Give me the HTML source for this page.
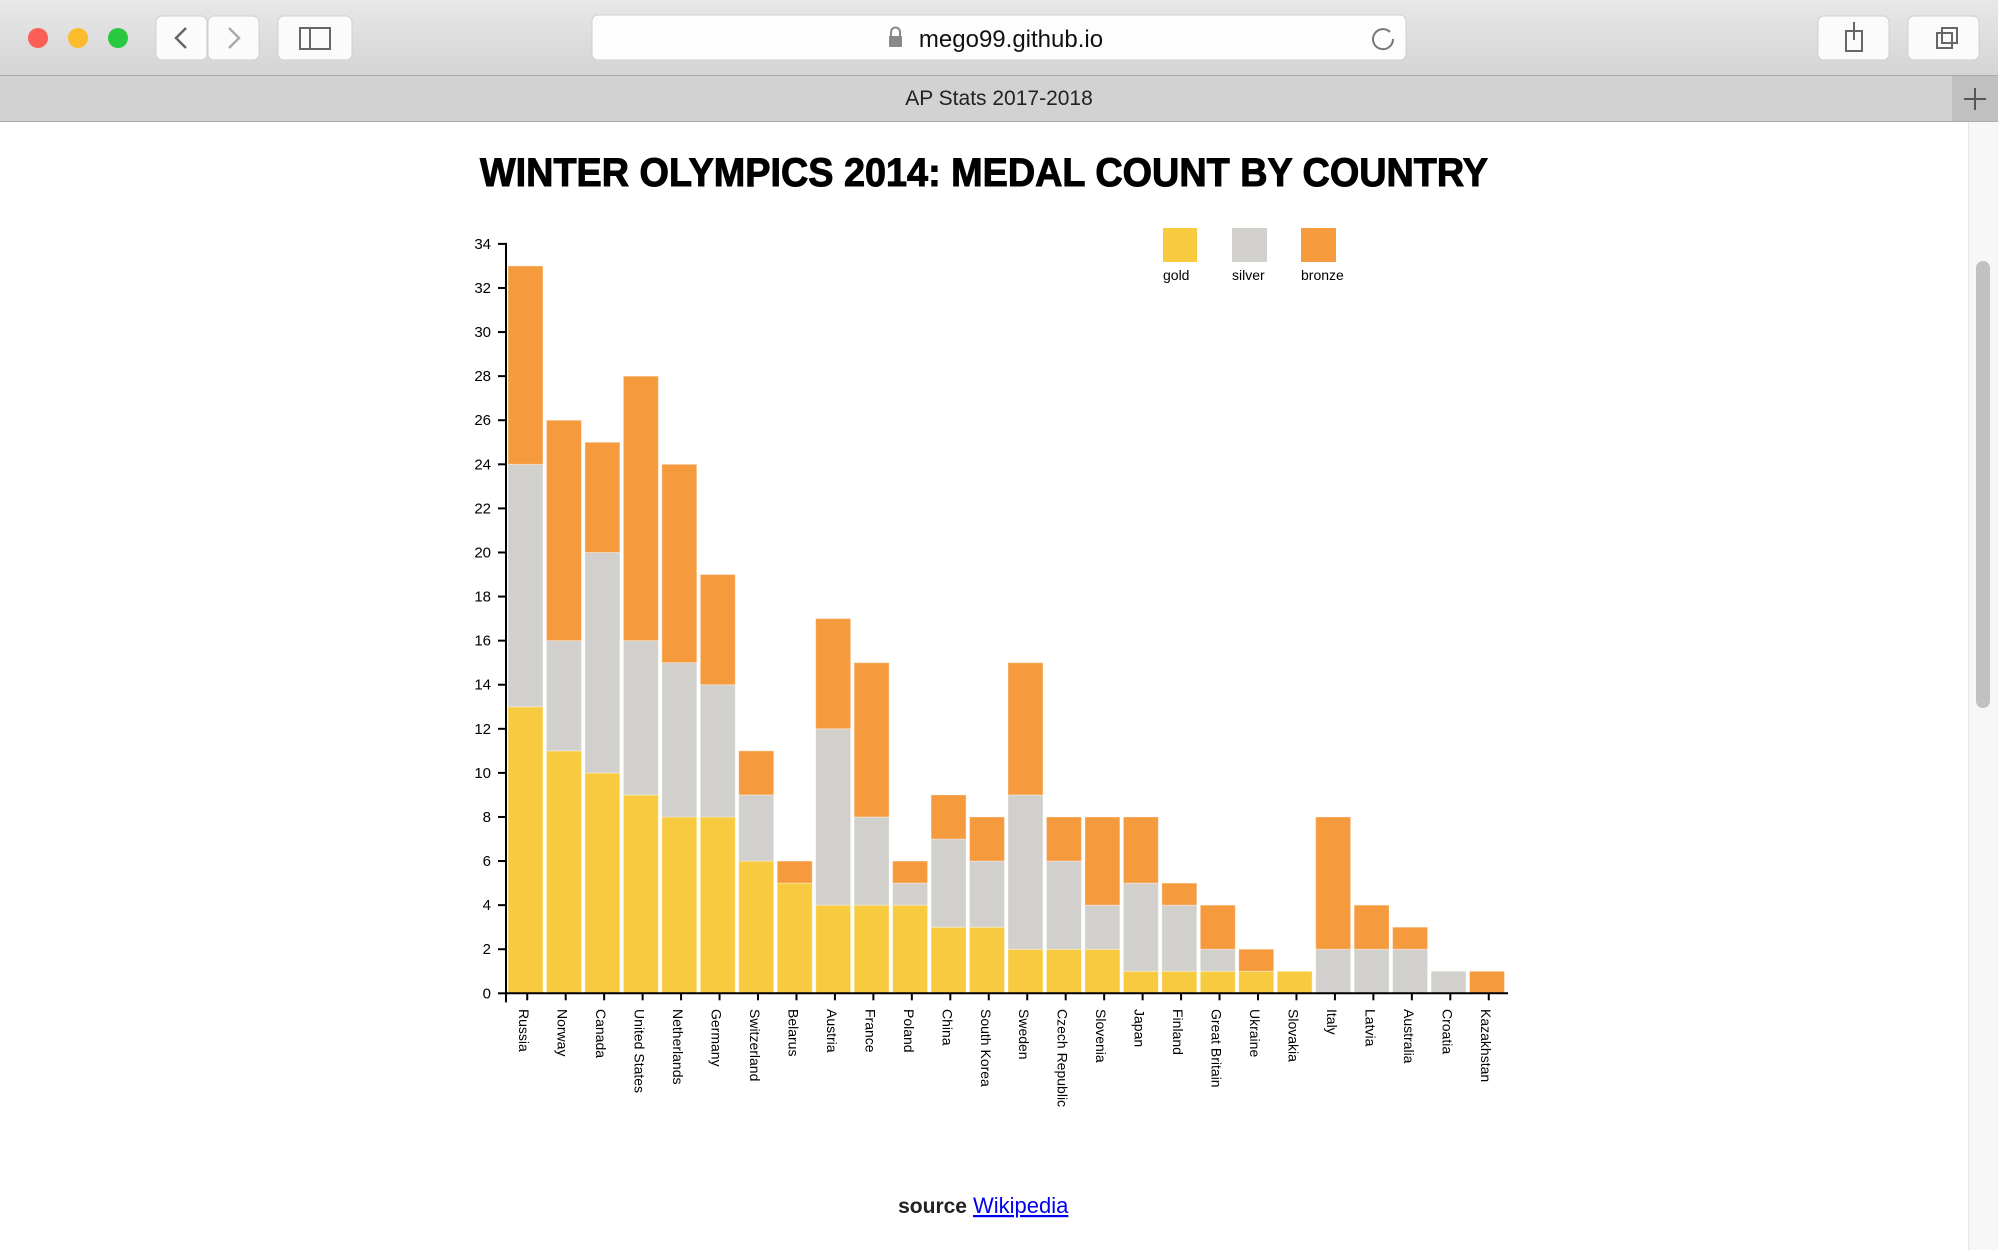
<!DOCTYPE html>
<html><head><meta charset="utf-8"><style>
html,body{margin:0;padding:0;background:#fff;}
svg{display:block;font-family:"Liberation Sans",sans-serif;}
</style></head><body>
<svg id="root" width="1998" height="1250" viewBox="0 0 1998 1250">
 <defs><linearGradient id="tb" x1="0" y1="0" x2="0" y2="1"><stop offset="0" stop-color="#e8e8e8"/><stop offset="1" stop-color="#d4d4d4"/></linearGradient></defs>
 <g>
  <rect x="0" y="0" width="1998" height="75" fill="url(#tb)"/>
  <circle cx="38" cy="38" r="10" fill="#fd5f57"/>
  <circle cx="78" cy="38" r="10" fill="#fdbc2e"/>
  <circle cx="118" cy="38" r="10" fill="#28c840"/>
  <rect x="156" y="16" width="51" height="44" rx="6" fill="#fbfbfb" stroke="#cfcfcf"/>
  <path d="M186 28 L176 38 L186 48" stroke="#666" stroke-width="2.5" fill="none"/>
  <rect x="208" y="16" width="51" height="44" rx="6" fill="#fbfbfb" stroke="#cfcfcf"/>
  <path d="M229 28 L239 38 L229 48" stroke="#aaa" stroke-width="2.5" fill="none"/>
  <rect x="278" y="16" width="74" height="44" rx="6" fill="#fbfbfb" stroke="#cfcfcf"/>
  <rect x="300" y="28" width="30" height="21" fill="none" stroke="#666" stroke-width="2"/><line x1="310" y1="28" x2="310" y2="49" stroke="#666" stroke-width="2"/>
  <rect x="592" y="15" width="814" height="45" rx="6" fill="#fdfdfd" stroke="#cfcfcf"/>
  <rect x="889" y="36" width="13" height="11" rx="1" fill="#888"/><path d="M891 36 v-4 a4.5 4.5 0 0 1 9 0 v4" stroke="#888" stroke-width="2" fill="none"/>
  <text x="1011" y="47" font-size="24" text-anchor="middle" fill="#111">mego99.github.io</text>
  <path d="M1390 32 a10 10 0 1 0 3 7" stroke="#777" stroke-width="2" fill="none"/>
  <rect x="1818" y="16" width="71" height="44" rx="6" fill="#fbfbfb" stroke="#cfcfcf"/>
  <rect x="1846" y="31" width="16" height="20" fill="none" stroke="#666" stroke-width="2"/><line x1="1854" y1="22" x2="1854" y2="40" stroke="#666" stroke-width="2"/>
  <rect x="1908" y="16" width="71" height="44" rx="6" fill="#fbfbfb" stroke="#cfcfcf"/>
  <rect x="1937" y="33" width="15" height="15" fill="none" stroke="#666" stroke-width="2"/><rect x="1942" y="28" width="15" height="15" fill="none" stroke="#666" stroke-width="2"/>
 </g>
 <g>
  <rect x="0" y="75" width="1998" height="47" fill="#d2d2d2"/>
  <line x1="0" y1="75.5" x2="1998" y2="75.5" stroke="#ababab"/>
  <line x1="0" y1="121.5" x2="1998" y2="121.5" stroke="#ababab"/>
  <text x="999" y="105" font-size="21" text-anchor="middle" fill="#222">AP Stats 2017-2018</text>
  <rect x="1952" y="76" width="46" height="45" fill="#c0c0c0"/>
  <path d="M1975 88 v22 M1964 99 h22" stroke="#555" stroke-width="2"/>
 </g>
 <g>
  <rect x="1968" y="122" width="30" height="1128" fill="#f7f7f7"/>
  <line x1="1968.5" y1="122" x2="1968.5" y2="1250" stroke="#e6e6e6"/>
  <rect x="1976" y="261" width="14" height="447" rx="7" fill="#c1c1c1"/>
 </g>
 <text x="984" y="186" font-size="40" font-weight="bold" textLength="1008" lengthAdjust="spacingAndGlyphs" text-anchor="middle" fill="#000" stroke="#000" stroke-width="1">WINTER OLYMPICS 2014: MEDAL COUNT BY COUNTRY</text>
 <g id="chart"></g>
 <g>
  <rect x="1163" y="228" width="34" height="34" fill="#f8ca3f"/>
  <text x="1163" y="280" font-size="14" fill="#000">gold</text>
  <rect x="1232" y="228" width="35" height="34" fill="#d1d0cc"/>
  <text x="1232" y="280" font-size="14" fill="#000">silver</text>
  <rect x="1301" y="228" width="35" height="34" fill="#f69a3e"/>
  <text x="1301" y="280" font-size="14" fill="#000">bronze</text>
 </g>
 <text x="967" y="1213" font-size="21" font-weight="bold" text-anchor="end" fill="#222">source</text>
 <text x="973" y="1213" font-size="22" fill="#0000ee" text-decoration="underline">Wikipedia</text>
</svg>
<script>
const countries = ["Russia","Norway","Canada","United States","Netherlands","Germany","Switzerland","Belarus","Austria","France","Poland","China","South Korea","Sweden","Czech Republic","Slovenia","Japan","Finland","Great Britain","Ukraine","Slovakia","Italy","Latvia","Australia","Croatia","Kazakhstan"];
const gold   = [13,11,10,9,8,8,6,5,4,4,4,3,3,2,2,2,1,1,1,1,1,0,0,0,0,0];
const silver = [11,5,10,7,7,6,3,0,8,4,1,4,3,7,4,2,4,3,1,0,0,2,2,2,1,0];
const bronze = [9,10,5,12,9,5,2,1,5,7,1,2,2,6,2,4,3,1,2,1,0,6,2,1,0,1];
const yTicks = [0,2,4,6,8,10,12,14,16,18,20,22,24,26,28,30,32,34];
const NS="http://www.w3.org/2000/svg";
const g=document.getElementById('chart');
const X0=507, X1=1507, Y0=993.3, Y1=243.9, YMAX=34;
const band=(X1-X0)/countries.length;
const y=v=>Y0-(v/YMAX)*(Y0-Y1);
const x=i=>X0+i*band;
function mk(t,a){const e=document.createElementNS(NS,t);for(const k in a)e.setAttribute(k,a[k]);g.appendChild(e);return e;}
const series=[["gold",gold,"#f8ca3f"],["silver",silver,"#d1d0cc"],["bronze",bronze,"#f69a3e"]];
countries.forEach((c,i)=>{
  let base=0;
  series.forEach(([nm,arr,col])=>{
    const v=arr[i];
    if(v>0){
      const r=mk('rect',{x:x(i)+1,y:y(base+v),width:band-3.5,height:y(base)-y(base+v),fill:col,stroke:"#fff","stroke-opacity":0.35,"stroke-width":1});
      
      
    }
    base+=v;
  });
  const tx=x(i)+band/2+1;
  const tk=mk('line',{x1:tx,y1:Y0,x2:tx,y2:Y0+7,stroke:"#000","stroke-width":2});
  
  
  const lb=mk('text',{transform:`translate(${tx},1009) rotate(90)`,y:8,"font-size":14,fill:"#000"});
  lb.textContent=c;
  
  
});
yTicks.forEach(v=>{
  const l=mk('line',{x1:498,y1:y(v),x2:506,y2:y(v),stroke:"#000","stroke-width":2});
  
  
  const t=mk('text',{x:491,y:y(v)+5,"font-size":15,"text-anchor":"end",fill:"#000"});
  t.textContent=v;
  
  
});
const ya=mk('line',{x1:506,y1:Y1-1,x2:506,y2:Y0+9,stroke:"#000","stroke-width":2});


const xa=mk('line',{x1:505,y1:Y0,x2:X1+1,y2:Y0,stroke:"#000","stroke-width":2});


const xt=mk('line',{x1:506,y1:Y0,x2:506,y2:Y0+9,stroke:"#000","stroke-width":2});


</script>
</body></html>
